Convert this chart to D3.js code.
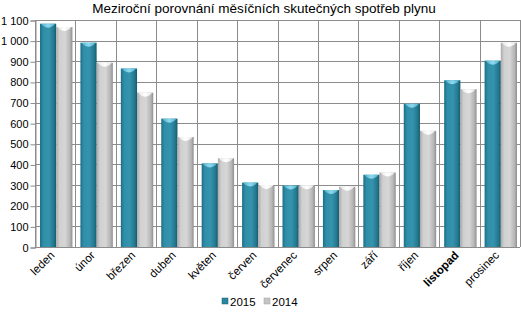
<!DOCTYPE html>
<html><head><meta charset="utf-8">
<script src="https://cdn.jsdelivr.net/npm/d3@7"></script>
<style>
body{margin:0;background:#fff;}
svg{display:block;font-family:"Liberation Sans",Arial,sans-serif;}
</style></head>
<body>
<svg id="c" width="521" height="327"></svg>
<script>
const months = ["leden","únor","březen","duben","květen","červen","červenec","srpen","září","říjen","listopad","prosinec"];
const series = ["2015","2014"];
const values2015 = [1082, 990, 865, 622, 405, 312, 298, 276, 350, 694, 808, 903];
const values2014 = [1066, 893, 748, 533, 430, 300, 299, 292, 361, 563, 765, 990];
const yTicks = [0,100,200,300,400,500,600,700,800,900,1000,1100];
const title = "Meziroční porovnání měsíčních skutečných spotřeb plynu";

const svg = d3.select("#c");
const L = 35, R = 520, T = 20, B = 247;
const x = d3.scaleBand().domain(months).range([L, R]).paddingInner(0).paddingOuter(0);
const xs = d3.scaleBand().domain(series).range([5, x.bandwidth()-3]).padding(0);
const y = d3.scaleLinear().domain([0,1100]).range([B, T]);

const defs = svg.append("defs");
function grad(id, stops){
  const g = defs.append("linearGradient").attr("id", id).attr("x1","0").attr("x2","1").attr("y1","0").attr("y2","0");
  stops.forEach(s=>g.append("stop").attr("offset", s[0]).attr("stop-color", s[1]));
}
grad("g15", [[0,"#1d6f86"],[0.2,"#2f8ea8"],[0.55,"#3593ad"],[0.85,"#23788f"],[1,"#15596c"]]);
grad("g14", [[0,"#a9a9a9"],[0.2,"#d0d0d0"],[0.55,"#d6d6d6"],[0.85,"#b5b5b5"],[1,"#8f8f8f"]]);
grad("c15", [[0,"#4fb0cc"],[0.5,"#8fd8ee"],[1,"#4fb0cc"]]);
grad("c14", [[0,"#e6e6e6"],[0.5,"#ffffff"],[1,"#e6e6e6"]]);

// title
svg.append("text").attr("x", 264).attr("y", 13).attr("text-anchor","middle")
  .attr("font-size", 13.5).attr("fill","#000").text(title);

// gridlines horizontal
svg.append("g").selectAll("line").data(yTicks).join("line")
  .attr("x1", L).attr("x2", R).attr("y1", d=>Math.round(y(d))+0.5).attr("y2", d=>Math.round(y(d))+0.5)
  .attr("stroke","#8c8c8c").attr("stroke-width",1);
// vertical gridlines
const vx = months.map(m=>x(m)).concat([R]);
svg.append("g").selectAll("line").data(vx).join("line")
  .attr("x1", d=>Math.round(d)+0.5).attr("x2", d=>Math.round(d)+0.5).attr("y1", T).attr("y2", B)
  .attr("stroke","#8c8c8c").attr("stroke-width",1);

// y axis
const yAxis = d3.axisLeft(y).tickValues(yTicks).tickSize(5).tickPadding(2)
  .tickFormat(d=> d>=1000 ? d3.format(",")(d).replace(",", " ") : String(d));
const ya = svg.append("g").attr("transform", `translate(${L+0.5},0.5)`).call(yAxis);
ya.select(".domain").attr("stroke","#8c8c8c");
ya.selectAll(".tick line").attr("stroke","#8c8c8c");
ya.selectAll("text").attr("font-size", 11).attr("fill","#000").attr("font-family","Liberation Sans, Arial, sans-serif");

// bars
const data = months.map((m,i)=>({m, v:[values2015[i], values2014[i]]}));
const groups = svg.append("g").selectAll("g").data(data).join("g")
  .attr("transform", d=>`translate(${x(d.m)},0)`);
groups.each(function(d){
  const g = d3.select(this);
  series.forEach((s,k)=>{
    const bx = xs(s), bw = xs.bandwidth(), top = y(d.v[k]);
    g.append("rect").attr("x", bx).attr("y", top).attr("width", bw).attr("height", B-top)
      .attr("fill", k===0 ? "url(#g15)" : "url(#g14)");
    const capH = 5;
    g.append("path")
      .attr("d", `M${bx+1},${top} L${bx+bw-1},${top} L${bx+bw-3},${top+2} Q${bx+bw/2},${top+capH+1} ${bx+3},${top+2} Z`)
      .attr("fill", k===0 ? "url(#c15)" : "url(#c14)");
  });
});

// x labels
svg.append("g").selectAll("text").data(months).join("text")
  .attr("transform", d=>`translate(${x(d)+x.bandwidth()/2},${B+9}) rotate(-45)`)
  .attr("text-anchor","end").attr("font-size", 11.5).attr("fill","#000")
  .attr("font-weight", d=> d==="listopad" ? "bold" : "normal")
  .text(d=>d);

// legend
const lg = svg.append("g");
const lx = [222, 264];
series.forEach((s,k)=>{
  lg.append("rect").attr("x", lx[k]).attr("y", 298).attr("width", 6).attr("height", 6)
    .attr("fill", k===0 ? "#2a86a0" : "#c4c4c4").attr("stroke", k===0 ? "#1a5f72" : "#a0a0a0").attr("stroke-width",0.5);
  lg.append("text").attr("x", lx[k]+8).attr("y", 306).attr("font-size", 11.5).attr("fill","#000").text(s);
});
</script>
</body></html>
